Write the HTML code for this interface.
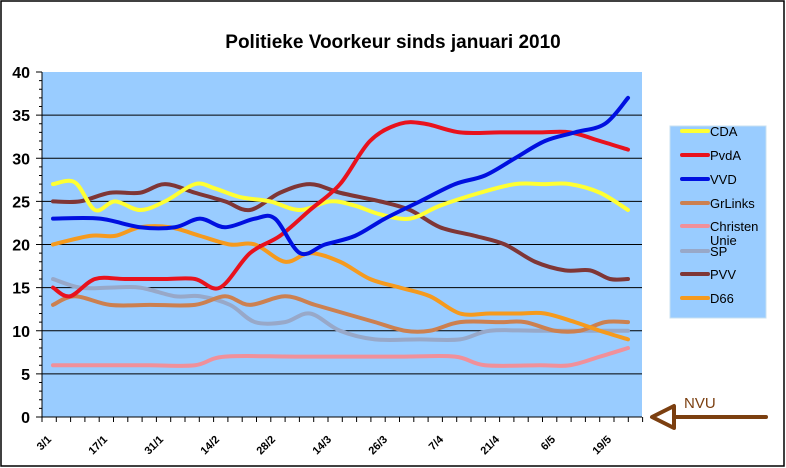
<!DOCTYPE html>
<html><head><meta charset="utf-8"><style>
body{margin:0;background:#fff;}
svg{display:block;font-family:"Liberation Sans",Arial,sans-serif;}
</style></head><body>
<svg id="s" width="786" height="468" viewBox="0 0 786 468">
<rect x="1" y="1" width="783" height="465" fill="#fff" stroke="#000" stroke-width="1.5"/>
<text x="393" y="48" text-anchor="middle" font-size="19" font-weight="bold">Politieke Voorkeur sinds januari 2010</text>
<rect x="42" y="72" width="600" height="345" fill="#99ccff"/>
<g id="grid" stroke="#000" stroke-width="1"></g>
<g id="lines" fill="none" stroke-width="4" stroke-linecap="round" stroke-linejoin="round"></g>
<g id="lab" font-size="16" font-weight="bold" text-anchor="end"></g>
<g id="xl" font-size="11" font-weight="bold"></g>
<rect x="670" y="126" width="96" height="192" fill="#99ccff" stroke="#c8e0f0"/>
<g id="leg" font-size="13"></g>
<line x1="668" y1="417" x2="766" y2="417" stroke="#7b3f10" stroke-width="4" stroke-linecap="round"/>
<polygon points="652,417 674,406 674,428" fill="#fff" stroke="#7b3f10" stroke-width="4" stroke-linejoin="round"/>
<text x="684" y="408" font-size="15" fill="#7b3f10">NVU</text>
</svg>
<script>
const Y=v=>417-v*8.625;
const ns="http://www.w3.org/2000/svg";
function el(p,t,a,txt){const e=document.createElementNS(ns,t);for(const k in a)e.setAttribute(k,a[k]);if(txt)e.textContent=txt;document.getElementById(p).appendChild(e);return e;}
for(let v=5;v<=35;v+=5)el("grid","line",{x1:42,x2:642,y1:Y(v),y2:Y(v)});
el("grid","line",{x1:42,x2:42,y1:72,y2:422});
el("grid","line",{x1:37,x2:642,y1:417,y2:417});
for(let v=0;v<=40;v++)el("grid","line",{x1:v%5?39:36,x2:42,y1:Y(v),y2:Y(v)});
for(let x=42;x<=643;x+=14.3)el("grid","line",{x1:x,x2:x,y1:417,y2:422});
for(let v=0;v<=40;v+=5)el("lab","text",{x:30,y:Y(v)+6},String(v));
const xl=["3/1","17/1","31/1","14/2","28/2","14/3","26/3","7/4","21/4","6/5","19/5"];
xl.forEach((t,i)=>{const x=52+i*56,y=440;el("xl","text",{x:x,y:y,"text-anchor":"end",transform:`rotate(-45 ${x} ${y})`},t);});
function path(pts){const P=pts.map(([x,v])=>[x,Y(v)]);let d=`M${P[0][0]},${P[0][1]}`;
for(let i=0;i<P.length-1;i++){const p0=P[i-1]||P[i],p1=P[i],p2=P[i+1],p3=P[i+2]||p2;const t=6;
d+=` C${p1[0]+(p2[0]-p0[0])/t},${p1[1]+(p2[1]-p0[1])/t} ${p2[0]-(p3[0]-p1[0])/t},${p2[1]-(p3[1]-p1[1])/t} ${p2[0]},${p2[1]}`;}return d;}
const S=[
["#98a8c8",[[53,16],[80,15],[110,15],[140,15],[175,14],[200,14],[230,13],[255,11],[285,11],[310,12],[340,10],[375,9],[420,9],[460,9],[490,10],[540,10],[628,10]]],
["#cc8050",[[53,13],[75,14],[110,13],[150,13],[195,13],[225,14],[250,13],[285,14],[315,13],[345,12],[375,11],[405,10],[430,10],[460,11],[500,11],[525,11],[555,10],[580,10],[605,11],[628,11]]],
["#f0909a",[[53,6],[100,6],[150,6],[195,6],[225,7],[300,7],[400,7],[455,7],[485,6],[540,6],[570,6],[600,7],[628,8]]],
["#f59a1e",[[53,20],[90,21],[115,21],[140,22],[170,22],[200,21],[230,20],[255,20],[285,18],[310,19],[340,18],[370,16],[400,15],[430,14],[460,12],[490,12],[520,12],[545,12],[575,11],[600,10],[628,9]]],
["#7f3636",[[53,25],[80,25],[110,26],[140,26],[165,27],[195,26],[225,25],[250,24],[280,26],[310,27],[340,26],[380,25],[410,24],[440,22],[475,21],[505,20],[535,18],[565,17],[590,17],[610,16],[628,16]]],
["#ffff33",[[53,27],[75,27.2],[95,24],[115,25],[140,24],[165,25],[195,27],[215,26.5],[240,25.5],[270,25],[300,24],[330,25],[355,24.5],[380,23.5],[410,23],[440,24.5],[480,26],[515,27],[545,27],[570,27],[600,26],[628,24]]],
["#e8121d",[[53,15],[70,14],[95,16],[125,16],[165,16],[195,16],[220,15],[250,19],[280,21],[310,24],[340,27],[370,32],[400,34],[425,34],[460,33],[500,33],[540,33],[570,33],[600,32],[628,31]]],
["#0010e0",[[53,23],[100,23],[140,22],[175,22],[200,23],[225,22],[255,23],[275,23],[300,19],[325,20],[355,21],[385,23],[420,25],[455,27],[485,28],[515,30],[545,32],[575,33],[605,34],[628,37]]]];
S.forEach(([c,p])=>el("lines","path",{d:path(p),stroke:c}));
const L=[["CDA","#ffff33",131],["PvdA","#e8121d",155],["VVD","#0010e0",179],["GrLinks","#cc8050",203],["Christen","#f0909a",226],["SP","#98a8c8",251],["PVV","#7f3636",274],["D66","#f59a1e",298]];
L.forEach(([t,c,y])=>{el("leg","line",{x1:682,x2:708,y1:y,y2:y,stroke:c,"stroke-width":4,"stroke-linecap":"round"});el("leg","text",{x:710,y:y+5},t);});
el("leg","text",{x:710,y:245},"Unie");
</script>
</body></html>
